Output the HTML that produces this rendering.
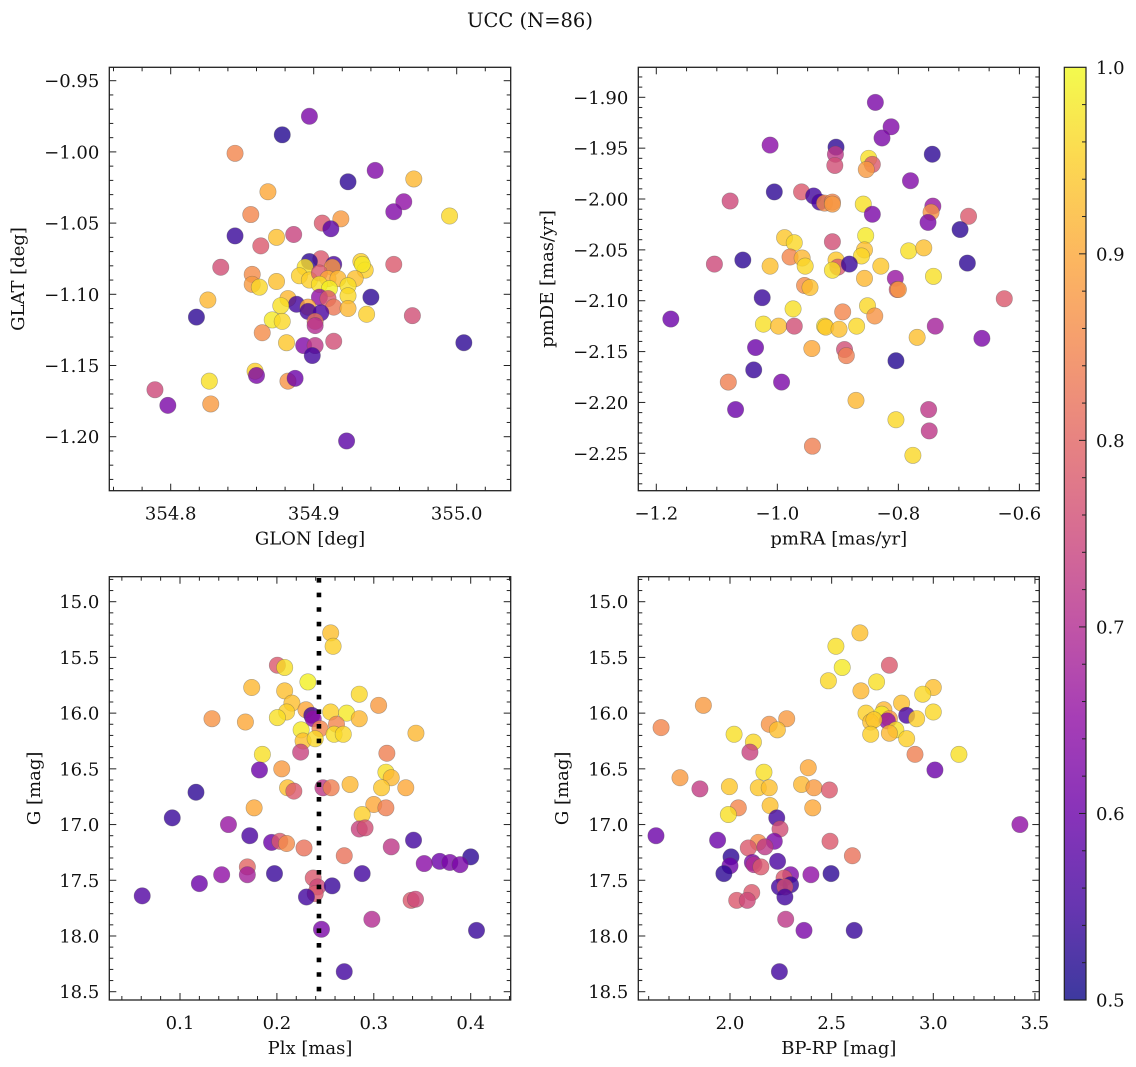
<!DOCTYPE html>
<html><head><meta charset="utf-8"><style>
html,body{margin:0;padding:0;background:#fff}
svg{display:block;font-family:"DejaVu Serif","Liberation Serif",serif}
</style></head><body>
<svg id="fig" width="1136" height="1067" viewBox="0 0 1136 1067" xmlns="http://www.w3.org/2000/svg">
<text x="530" y="27" font-size="19.5" text-anchor="middle" fill="#111">UCC (N=86)</text>
</svg>
<script>
// ---- data: panel 1 (GLON/GLAT) ----
const p1Glon=[354.897,354.878,354.845,354.943,354.924,354.970,354.868,354.963,354.956,354.995,354.856,354.906,354.919,354.912,354.845,354.874,354.886,354.863,354.835,354.905,354.897,354.914,354.913,354.933,354.936,354.934,354.956,354.894,354.857,354.857,354.874,354.862,354.890,354.897,354.904,354.910,354.917,354.929,354.904,354.911,354.924,354.924,354.940,354.904,354.910,354.914,354.924,354.826,354.882,354.888,354.877,354.896,354.896,354.905,354.937,354.818,354.969,354.871,354.878,354.901,354.901,354.864,354.881,354.914,355.005,354.893,354.901,354.899,354.859,354.860,354.827,354.882,354.887,354.789,354.798,354.828,354.923];
const p1Glat=[-0.975,-0.988,-1.001,-1.013,-1.021,-1.019,-1.028,-1.035,-1.042,-1.045,-1.044,-1.050,-1.047,-1.054,-1.059,-1.060,-1.058,-1.066,-1.081,-1.075,-1.077,-1.079,-1.081,-1.077,-1.083,-1.079,-1.079,-1.081,-1.086,-1.093,-1.091,-1.095,-1.087,-1.090,-1.085,-1.089,-1.089,-1.089,-1.093,-1.096,-1.094,-1.101,-1.102,-1.102,-1.103,-1.109,-1.110,-1.104,-1.103,-1.107,-1.108,-1.109,-1.112,-1.113,-1.114,-1.116,-1.115,-1.118,-1.119,-1.119,-1.122,-1.127,-1.134,-1.133,-1.134,-1.136,-1.136,-1.143,-1.154,-1.157,-1.161,-1.161,-1.159,-1.167,-1.178,-1.177,-1.203];
const p1Prob=[0.62,0.52,0.85,0.63,0.53,0.92,0.90,0.65,0.63,0.96,0.85,0.78,0.88,0.58,0.54,0.93,0.74,0.78,0.76,0.78,0.53,0.56,0.88,0.95,0.95,0.98,0.78,0.97,0.86,0.88,0.93,0.96,0.95,0.95,0.78,0.90,0.92,0.93,0.97,0.99,0.97,0.96,0.53,0.65,0.78,0.83,0.92,0.92,0.92,0.55,0.97,0.90,0.55,0.56,0.95,0.53,0.76,0.98,0.96,0.82,0.70,0.86,0.94,0.76,0.53,0.63,0.72,0.55,0.95,0.62,0.97,0.87,0.60,0.75,0.62,0.88,0.58];
// ---- data: panel 2 (pmRA/pmDE) ----
const p2PmRA=[-0.838,-0.812,-0.827,-1.012,-0.903,-0.904,-0.905,-0.744,-0.849,-0.843,-0.853,-0.780,-1.005,-0.960,-0.940,-0.930,-0.922,-0.909,-0.909,-1.078,-0.858,-0.843,-0.743,-0.746,-0.751,-0.684,-0.698,-0.988,-0.972,-0.909,-0.854,-0.856,-0.861,-0.783,-0.758,-0.979,-0.959,-0.954,-1.012,-1.057,-1.104,-0.903,-0.900,-0.909,-0.881,-0.829,-0.686,-0.742,-0.856,-0.805,-0.802,-0.800,-0.955,-0.946,-1.025,-0.625,-0.974,-0.851,-0.892,-0.839,-1.176,-1.023,-0.998,-0.972,-0.922,-0.920,-0.898,-0.869,-0.739,-0.769,-0.662,-1.036,-0.943,-0.889,-0.886,-1.039,-0.804,-1.081,-0.993,-0.870,-1.069,-0.750,-0.804,-0.749,-0.942,-0.776];
const p2PmDE=[-1.905,-1.929,-1.940,-1.947,-1.949,-1.956,-1.967,-1.956,-1.960,-1.966,-1.971,-1.982,-1.993,-1.993,-1.997,-2.003,-2.004,-2.003,-2.005,-2.002,-2.005,-2.015,-2.007,-2.013,-2.023,-2.017,-2.030,-2.038,-2.043,-2.042,-2.036,-2.050,-2.056,-2.051,-2.048,-2.057,-2.058,-2.066,-2.066,-2.060,-2.064,-2.060,-2.067,-2.070,-2.064,-2.066,-2.063,-2.076,-2.078,-2.078,-2.089,-2.089,-2.085,-2.087,-2.097,-2.098,-2.108,-2.105,-2.111,-2.115,-2.118,-2.123,-2.125,-2.125,-2.125,-2.126,-2.128,-2.125,-2.125,-2.136,-2.137,-2.146,-2.147,-2.148,-2.154,-2.168,-2.159,-2.180,-2.180,-2.198,-2.207,-2.207,-2.217,-2.228,-2.243,-2.252];
const p2Prob=[0.62,0.63,0.62,0.64,0.53,0.72,0.76,0.53,0.97,0.78,0.88,0.63,0.53,0.78,0.55,0.56,0.86,0.85,0.88,0.75,0.97,0.62,0.66,0.87,0.62,0.78,0.53,0.94,0.96,0.76,0.98,0.93,0.96,0.97,0.93,0.85,0.92,0.96,0.93,0.53,0.75,0.94,0.78,0.97,0.54,0.94,0.53,0.97,0.92,0.66,0.78,0.88,0.86,0.93,0.54,0.78,0.97,0.96,0.85,0.87,0.60,0.97,0.93,0.76,0.97,0.94,0.93,0.96,0.68,0.93,0.62,0.60,0.90,0.76,0.84,0.54,0.52,0.84,0.62,0.92,0.60,0.72,0.96,0.72,0.84,0.96];
// ---- data: panel 3 (Plx/G) ----
const p3Plx=[0.2555,0.258,0.2005,0.208,0.232,0.174,0.208,0.285,0.2155,0.305,0.23,0.210,0.2005,0.236,0.2375,0.2555,0.272,0.285,0.133,0.1675,0.2445,0.2615,0.225,0.259,0.2685,0.3435,0.227,0.2395,0.2245,0.185,0.3135,0.3125,0.318,0.182,0.205,0.211,0.2175,0.2475,0.256,0.2755,0.308,0.333,0.1165,0.1765,0.300,0.3125,0.288,0.092,0.150,0.285,0.291,0.172,0.1945,0.203,0.210,0.228,0.341,0.318,0.2695,0.400,0.368,0.3785,0.389,0.352,0.1695,0.1695,0.143,0.1975,0.288,0.2375,0.242,0.257,0.120,0.2395,0.2305,0.061,0.3385,0.343,0.298,0.246,0.406,0.2695];
const p3G=[15.28,15.40,15.57,15.59,15.72,15.77,15.80,15.83,15.91,15.93,15.97,15.99,16.04,16.02,16.05,15.99,16.00,16.05,16.05,16.08,16.14,16.10,16.15,16.19,16.19,16.18,16.25,16.23,16.35,16.37,16.36,16.53,16.58,16.51,16.50,16.67,16.70,16.67,16.67,16.64,16.67,16.67,16.71,16.85,16.82,16.85,16.91,16.94,17.00,17.04,17.03,17.10,17.16,17.15,17.17,17.21,17.14,17.20,17.28,17.29,17.33,17.34,17.36,17.35,17.38,17.45,17.45,17.44,17.44,17.48,17.56,17.55,17.53,17.62,17.65,17.64,17.68,17.67,17.85,17.94,17.95,18.32];
const p3Prob=[0.93,0.95,0.78,0.97,0.99,0.92,0.93,0.96,0.93,0.88,0.90,0.95,0.97,0.55,0.65,0.95,0.98,0.92,0.87,0.90,0.85,0.85,0.98,0.97,0.96,0.92,0.93,0.96,0.74,0.97,0.84,0.97,0.92,0.60,0.88,0.93,0.78,0.72,0.84,0.92,0.94,0.90,0.53,0.90,0.90,0.84,0.95,0.54,0.66,0.74,0.76,0.56,0.60,0.78,0.86,0.82,0.55,0.72,0.82,0.53,0.60,0.62,0.62,0.64,0.80,0.68,0.65,0.54,0.55,0.78,0.75,0.54,0.60,0.78,0.55,0.57,0.78,0.75,0.70,0.62,0.54,0.55];
const plxMedian=0.2434;
// ---- data: panel 4 (BP-RP/G) ----
const p4BpRp=[2.639,2.521,2.552,2.784,2.484,2.721,2.644,3.0,2.948,2.844,1.869,2.757,2.669,2.746,3.0,2.869,2.918,2.784,2.774,2.692,2.708,2.279,2.193,1.661,2.233,2.816,2.784,2.692,2.020,2.869,2.115,2.098,2.910,3.126,2.385,2.167,3.008,1.754,2.352,1.997,2.139,2.193,2.413,1.852,2.489,2.041,2.197,2.407,1.992,2.230,2.246,3.426,1.636,1.939,2.218,2.139,2.090,2.172,2.492,2.602,2.005,2.234,2.11,2.118,2.0,2.152,1.970,2.298,2.398,2.497,2.266,2.243,2.298,2.270,2.107,2.033,2.085,2.270,2.274,2.364,2.611,2.243];
const p4G=[15.28,15.40,15.59,15.57,15.71,15.72,15.80,15.77,15.83,15.91,15.93,15.97,16.00,16.01,15.99,16.02,16.05,16.05,16.07,16.08,16.06,16.05,16.10,16.13,16.15,16.15,16.18,16.19,16.19,16.23,16.26,16.35,16.37,16.37,16.49,16.53,16.51,16.58,16.64,16.66,16.67,16.67,16.67,16.68,16.69,16.85,16.83,16.85,16.91,16.94,17.04,17.00,17.10,17.14,17.15,17.16,17.21,17.20,17.15,17.28,17.29,17.33,17.34,17.36,17.37,17.38,17.44,17.45,17.45,17.44,17.48,17.56,17.54,17.56,17.61,17.68,17.68,17.65,17.85,17.95,17.95,18.32];
const p4Prob=[0.93,0.97,0.98,0.78,0.96,0.97,0.92,0.93,0.96,0.93,0.88,0.92,0.95,0.98,0.96,0.56,0.95,0.88,0.65,0.93,0.94,0.88,0.87,0.85,0.93,0.97,0.92,0.95,0.97,0.95,0.96,0.74,0.84,0.97,0.90,0.97,0.60,0.88,0.92,0.94,0.94,0.93,0.88,0.73,0.78,0.85,0.93,0.90,0.97,0.55,0.76,0.65,0.60,0.60,0.62,0.86,0.78,0.72,0.78,0.82,0.53,0.56,0.62,0.70,0.60,0.78,0.53,0.63,0.65,0.53,0.78,0.55,0.54,0.76,0.78,0.78,0.75,0.55,0.72,0.62,0.54,0.55];
// tick label arrays
const p1XTicks=[354.8,354.9,355.0], p1YTicks=[-0.95,-1.00,-1.05,-1.10,-1.15,-1.20];
const p2XTicks=[-1.2,-1.0,-0.8,-0.6], p2YTicks=[-1.90,-1.95,-2.00,-2.05,-2.10,-2.15,-2.20,-2.25];
const p3XTicks=[0.1,0.2,0.3,0.4], gTicks=[15.0,15.5,16.0,16.5,17.0,17.5,18.0,18.5];
const p4XTicks=[2.0,2.5,3.0,3.5];
const cbTicks=[0.5,0.6,0.7,0.8,0.9,1.0];

const NS="http://www.w3.org/2000/svg";
const svg=document.getElementById('fig');
const FS=18;
function mk(tag,attrs,parent){const e=document.createElementNS(NS,tag);for(const k in attrs)e.setAttribute(k,attrs[k]);(parent||svg).appendChild(e);return e;}
const plasma=[[13,8,135],[65,4,157],[106,0,168],[143,13,164],[177,42,144],[204,71,120],[225,100,98],[242,132,75],[252,166,54],[252,206,37],[240,249,33]];
function cmap(v){let t=(v-0.5)/0.5;t=Math.max(0,Math.min(1,t));const s=t*10,i=Math.min(9,Math.floor(s)),f=s-i;const a=plasma[i],b=plasma[i+1];return `rgb(${Math.round(a[0]+(b[0]-a[0])*f)},${Math.round(a[1]+(b[1]-a[1])*f)},${Math.round(a[2]+(b[2]-a[2])*f)})`;}
function lin(v0,p0,v1,p1){const k=(p1-p0)/(v1-v0);const f=v=>p0+(v-v0)*k;f.inv=p=>v0+(p-p0)/k;return f;}
function fmt(v,d){const s=Math.abs(v).toFixed(d);return (v<0?'\u2212':'')+s;}

function panel(cfg){
  const g=mk('g',{});
  
  
  const {L,R,T,B,sx,sy}=cfg;
  const pg=mk('g',{},g);
  
  
  for(let i=0;i<cfg.xs.length;i++){
    const c=mk('circle',{cx:sx(cfg.xs[i]).toFixed(2),cy:sy(cfg.ys[i]).toFixed(2),r:8.2,fill:cmap(cfg.cs[i]),'fill-opacity':0.8,stroke:'#555','stroke-opacity':0.45,'stroke-width':0.6},pg);
    
    
  }
  if(cfg.extra)cfg.extra(g);
  const fr=mk('rect',{x:L,y:T,width:R-L,height:B-T,fill:'none',stroke:'#222','stroke-width':1.3},g);
  
  
  const tg=mk('g',{stroke:'#222','stroke-width':1},g);
  const xmin=sx.inv(L),xmax=sx.inv(R);
  const lo=Math.min(xmin,xmax),hi=Math.max(xmin,xmax);
  for(let k=Math.ceil(lo/cfg.xmin-1e-6);k*cfg.xmin<=hi+1e-9;k++){
    const v=k*cfg.xmin,x=sx(v);if(x<L+0.5||x>R-0.5)continue;
    const major=Math.abs(v/cfg.xmaj-Math.round(v/cfg.xmaj))<1e-6;const len=major?7:4;
    mk('line',{x1:x,y1:B,x2:x,y2:B-len},tg);mk('line',{x1:x,y1:T,x2:x,y2:T+len},tg);
  }
  const y0=sy.inv(T),y1=sy.inv(B);const ylo=Math.min(y0,y1),yhi=Math.max(y0,y1);
  for(let k=Math.ceil(ylo/cfg.ymin-1e-6);k*cfg.ymin<=yhi+1e-9;k++){
    const v=k*cfg.ymin,y=sy(v);if(y<T+0.5||y>B-0.5)continue;
    const major=Math.abs(v/cfg.ymaj-Math.round(v/cfg.ymaj))<1e-6;const len=major?7:4;
    mk('line',{x1:L,y1:y,x2:L+len,y2:y},tg);mk('line',{x1:R,y1:y,x2:R-len,y2:y},tg);
  }
  cfg.xt.forEach(v=>{const t=mk('text',{x:sx(v),y:B+29,'font-size':FS,'text-anchor':'middle',fill:'#111'},g);t.textContent=fmt(v,cfg.xd);
    });
  cfg.yt.forEach(v=>{const t=mk('text',{x:L-10,y:sy(v)+6.5,'font-size':FS,'text-anchor':'end',fill:'#111'},g);t.textContent=fmt(v,cfg.yd);
    });
  const xl=mk('text',{x:(L+R)/2,y:B+54,'font-size':FS,'text-anchor':'middle',fill:'#111'},g);xl.textContent=cfg.xlabel;
  
  const yx=cfg.ylx,yy=(T+B)/2;
  const yl=mk('text',{x:yx,y:yy,'font-size':FS,'text-anchor':'middle',fill:'#111',transform:`rotate(-90 ${yx} ${yy})`},g);yl.textContent=cfg.ylabel;
  
}

panel({name:'glon-glat-panel',L:109.3,R:510.7,T:67.3,B:490.7,sx:lin(354.8,170.7,355.0,456.7),sy:lin(-0.95,80.7,-1.20,436.7),
  xs:p1Glon,ys:p1Glat,cs:p1Prob,xmaj:0.1,xmin:0.02,ymaj:0.05,ymin:0.01,xt:p1XTicks,yt:p1YTicks,xd:1,yd:2,xlabel:'GLON [deg]',ylabel:'GLAT [deg]',ylx:24});
panel({name:'pm-panel',L:638.3,R:1039.3,T:67.3,B:490.7,sx:lin(-1.2,656.3,-0.6,1019.4),sy:lin(-1.90,97.3,-2.25,453.3),
  xs:p2PmRA,ys:p2PmDE,cs:p2Prob,xmaj:0.2,xmin:0.05,ymaj:0.05,ymin:0.01,xt:p2XTicks,yt:p2YTicks,xd:1,yd:2,xlabel:'pmRA [mas/yr]',ylabel:'pmDE [mas/yr]',ylx:553});
panel({name:'plx-g-panel',L:109.3,R:510.7,T:576.7,B:1000,sx:lin(0.1,180,0.4,470.7),sy:lin(15.0,601.7,18.5,991.7),
  xs:p3Plx,ys:p3G,cs:p3Prob,xmaj:0.1,xmin:0.02,ymaj:0.5,ymin:0.1,xt:p3XTicks,yt:gTicks,xd:1,yd:1,xlabel:'Plx [mas]',ylabel:'G [mag]',ylx:40,
  extra:function(g){const sx=lin(0.1,180,0.4,470.7);const x=sx(plxMedian);
    const l=mk('line',{x1:x,y1:578,x2:x,y2:1000,stroke:'#000','stroke-width':4.6,'stroke-dasharray':'4.6 10'},g);
    }});
panel({name:'cmd-panel',L:638.3,R:1039.3,T:576.7,B:1000,sx:lin(2.0,730,3.0,933.3),sy:lin(15.0,601.7,18.5,991.7),
  xs:p4BpRp,ys:p4G,cs:p4Prob,xmaj:0.5,xmin:0.1,ymaj:0.5,ymin:0.1,xt:p4XTicks,yt:gTicks,xd:1,yd:1,xlabel:'BP-RP [mag]',ylabel:'G [mag]',ylx:568});

(function(){
  const L=1064.3,R=1086,T=67.3,B=1000;const sc=lin(0.5,B,1.0,T);
  const defs=mk('defs',{});const gr=mk('linearGradient',{id:'cbg',x1:0,y1:1,x2:0,y2:0},defs);
  for(let i=0;i<=20;i++){const v=0.5+i*0.025;mk('stop',{offset:(i/20),'stop-color':cmap(v),'stop-opacity':0.8},gr);}
  const g=mk('g',{});
  mk('rect',{x:L,y:T,width:R-L,height:B-T,fill:'url(#cbg)',stroke:'#222','stroke-width':1.2},g);
  for(let k=25;k<=50;k++){const v=k*0.02,y=sc(v);if(y<T+0.5||y>B-0.5)continue;const major=(k%5===0);
    mk('line',{x1:R,y1:y,x2:R-(major?7:4),y2:y,stroke:'#222','stroke-width':1},g);}
  cbTicks.forEach(v=>{const t=mk('text',{x:R+10,y:sc(v)+6.5,'font-size':FS,fill:'#111'},g);t.textContent=v.toFixed(1);
    });
})();
</script>
</body></html>
